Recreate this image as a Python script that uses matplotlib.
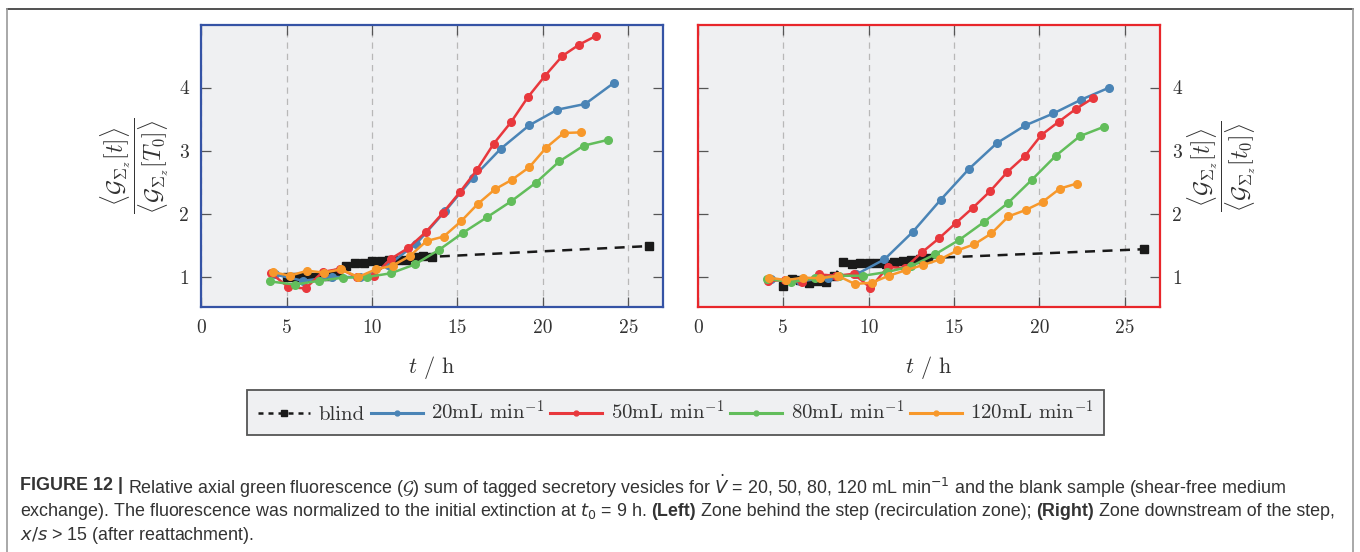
import matplotlib
matplotlib.use("Agg")
import matplotlib.pyplot as plt
from matplotlib.lines import Line2D

plt.rcParams["font.family"] = "cmr10"
plt.rcParams["mathtext.fontset"] = "cm"
plt.rcParams["axes.formatter.use_mathtext"] = True

# ---- data: left panel (recirculation zone) ----
blind_t_l = [5.0, 5.5, 6.0, 6.5, 7.0, 7.5, 8.0, 8.5, 9.0, 9.5, 10.0, 10.5, 11.0, 11.5, 12.0, 12.5, 13.0, 13.5, 26.2]
blind_y_l = [1.0, 1.0, 1.0, 1.0, 1.02, 1.02, 1.07, 1.17, 1.22, 1.22, 1.26, 1.26, 1.27, 1.27, 1.27, 1.32, 1.33, 1.32, 1.49]

t20_l = [4.3, 5.97, 7.63, 9.29, 10.95, 12.6, 14.27, 15.9, 17.53, 19.19, 20.85, 22.48, 24.14]
y20_l = [1.04, 0.94, 1.0, 1.0, 1.19, 1.53, 2.04, 2.57, 3.03, 3.40, 3.65, 3.74, 4.07]

t50_l = [4.08, 5.1, 6.11, 7.1, 8.12, 9.1, 10.09, 11.11, 12.12, 13.14, 14.13, 15.13, 16.12, 17.12, 18.13, 19.13, 20.14, 21.14, 22.13, 23.13]
y50_l = [1.06, 0.84, 0.82, 1.08, 1.13, 1.0, 1.02, 1.29, 1.46, 1.71, 2.01, 2.34, 2.69, 3.11, 3.45, 3.85, 4.19, 4.50, 4.68, 4.82]

t80_l = [4.04, 5.49, 6.87, 8.31, 9.72, 11.11, 12.51, 13.92, 15.32, 16.75, 18.15, 19.58, 20.96, 22.39, 23.79]
y80_l = [0.93, 0.88, 0.94, 0.99, 1.0, 1.06, 1.20, 1.43, 1.70, 1.95, 2.20, 2.49, 2.83, 3.08, 3.17]

t120_l = [4.18, 5.19, 6.19, 7.18, 8.18, 9.19, 10.21, 11.2, 12.2, 13.19, 14.19, 15.2, 16.2, 17.2, 18.19, 19.21, 20.2, 21.22, 22.21]
y120_l = [1.08, 1.02, 1.10, 1.07, 1.12, 1.0, 1.12, 1.18, 1.33, 1.57, 1.64, 1.88, 2.16, 2.39, 2.54, 2.74, 3.05, 3.28, 3.29]

# ---- data: right panel (after reattachment) ----
blind_t_r = [5.0, 5.5, 6.0, 6.5, 7.0, 7.5, 8.0, 8.5, 9.0, 9.5, 10.0, 10.5, 11.0, 11.5, 12.0, 12.5, 13.0, 13.5, 26.1]
blind_y_r = [0.86, 0.97, 0.95, 0.91, 0.93, 0.92, 1.01, 1.23, 1.21, 1.22, 1.22, 1.22, 1.21, 1.23, 1.25, 1.27, 1.29, 1.30, 1.44]

t20_r = [4.3, 5.97, 7.61, 9.27, 10.93, 12.57, 14.21, 15.87, 17.51, 19.17, 20.82, 22.46, 24.1]
y20_r = [0.97, 0.93, 0.99, 1.04, 1.28, 1.71, 2.22, 2.71, 3.12, 3.40, 3.59, 3.81, 4.0]

t50_r = [4.1, 5.12, 6.11, 7.11, 8.1, 9.12, 10.11, 11.13, 12.12, 13.12, 14.11, 15.13, 16.12, 17.12, 18.11, 19.13, 20.12, 21.14, 22.13, 23.13]
y50_r = [0.94, 0.95, 0.92, 1.04, 1.02, 1.05, 0.83, 1.16, 1.14, 1.39, 1.61, 1.86, 2.10, 2.36, 2.66, 2.91, 3.25, 3.46, 3.66, 3.83]

t80_r = [4.06, 5.47, 6.87, 8.28, 9.68, 11.09, 12.49, 13.9, 15.32, 16.75, 18.15, 19.56, 20.96, 22.37, 23.79]
y80_r = [0.97, 0.92, 0.98, 1.02, 1.02, 1.08, 1.17, 1.36, 1.59, 1.87, 2.17, 2.54, 2.92, 3.23, 3.38]

t120_r = [4.18, 5.17, 6.16, 7.18, 8.2, 9.19, 10.19, 11.18, 12.2, 13.19, 14.19, 15.19, 16.2, 17.19, 18.19, 19.19, 20.19, 21.2, 22.19]
y120_r = [0.99, 0.95, 0.99, 0.98, 1.02, 0.89, 0.91, 1.02, 1.11, 1.19, 1.28, 1.42, 1.52, 1.69, 1.96, 2.06, 2.19, 2.40, 2.48]

labels = [r"blind", r"20mL min$^{-1}$", r"50mL min$^{-1}$", r"80mL min$^{-1}$", r"120mL min$^{-1}$"]
colors = ["#1a1a1a", "#4a84b6", "#e8383d", "#62bd5b", "#f7982b"]

x_ticks = [0, 5, 10, 15, 20, 25]
y_ticks = [1, 2, 3, 4]

BG = "#eff0f2"
TXT = "#333333"

fig = plt.figure(figsize=(13.6, 5.52), dpi=100)
ax_l = fig.add_axes([0.148, 0.4438, 0.3397, 0.5109])
ax_r = fig.add_axes([0.5131, 0.4438, 0.3397, 0.5109])


def draw_panel(ax, blind_t, blind_y, series, edge, side):
    ax.set_facecolor(BG)
    ax.plot(blind_t, blind_y, color=colors[0], ls=(0, (4, 3)), lw=1.8,
            marker="s", ms=6, zorder=3)
    for (t, y), c in zip(series, colors[1:]):
        ax.plot(t, y, color=c, lw=1.8, marker="o", ms=5.5, zorder=4)
    ax.set_xlim(0, 27.05)
    ax.set_ylim(0.525, 4.99)
    ax.set_xticks(x_ticks)
    ax.set_xticklabels([str(v) for v in x_ticks])
    ax.set_yticks(y_ticks)
    ax.set_yticklabels([str(v) for v in y_ticks])
    ax.grid(axis="x", color="#b8b8b8", ls=(0, (5, 4)), lw=0.9, zorder=0)
    ax.set_axisbelow(True)
    for s in ax.spines.values():
        s.set_color(edge)
        s.set_linewidth(1.6)
    ax.tick_params(direction="in", length=7, width=0.9, color="#555555",
                   top=True, bottom=True, left=True, right=True,
                   labelsize=14, labelcolor=TXT, pad=9)
    if side == "right":
        ax.tick_params(labelleft=False, labelright=True)
    ax.set_xlabel(r"$t$ / h", fontsize=16, color=TXT, labelpad=12)


draw_panel(ax_l, blind_t_l, blind_y_l,
           [(t20_l, y20_l), (t50_l, y50_l), (t80_l, y80_l), (t120_l, y120_l)],
           "#3553a5", "left")
draw_panel(ax_r, blind_t_r, blind_y_r,
           [(t20_r, y20_r), (t50_r, y50_r), (t80_r, y80_r), (t120_r, y120_r)],
           "#e8262b", "right")

ax_l.set_ylabel(r"$\dfrac{\langle\mathcal{G}_{\Sigma_z}[t]\rangle}{\langle\mathcal{G}_{\Sigma_z}[T_0]\rangle}$",
                fontsize=17, color=TXT, labelpad=6)
ax_r.yaxis.set_label_position("right")
ax_r.set_ylabel(r"$\dfrac{\langle\mathcal{G}_{\Sigma_z}[t]\rangle}{\langle\mathcal{G}_{\Sigma_z}[t_0]\rangle}$",
                fontsize=17, color=TXT, labelpad=2, rotation=90)

# legend
handles = [Line2D([], [], color=colors[0], ls=(0, (2, 2)), lw=1.8, marker="s", ms=5)]
handles += [Line2D([], [], color=c, lw=2.2, marker="o", ms=3.5) for c in colors[1:]]
leg = fig.legend(handles, labels, loc="center", bbox_to_anchor=(0.497, 0.2536), ncol=5,
                 fontsize=15, frameon=True, fancybox=False, framealpha=1,
                 facecolor=BG, edgecolor="#555555", handlelength=2.5,
                 handletextpad=0.4, columnspacing=0.3, borderpad=0.5)
leg.get_frame().set_linewidth(1.3)
for t in leg.get_texts():
    t.set_color(TXT)

# figure frame
fig.add_artist(Line2D([7 / 1360, 1353 / 1360], [1 - 9 / 552, 1 - 9 / 552], color="#333333", lw=1.2))
fig.add_artist(Line2D([7 / 1360, 7 / 1360], [0, 1 - 9 / 552], color="#999999", lw=1.2))
fig.add_artist(Line2D([1353 / 1360, 1353 / 1360], [0, 1 - 9 / 552], color="#999999", lw=1.2))

# caption
cap_font = ["Liberation Sans", "DejaVu Sans"]
cap_size = 12.9
cap_lines = [
    [("FIGURE 12 |", "bold"),
     (r"Relative axial green fluorescence ($\mathcal{G}$) sum of tagged secretory vesicles for "
      r"$\dot{V}$ = 20, 50, 80, 120 mL min$^{-1}$ and the blank sample (shear-free medium", "normal")],
    [(r"exchange). The fluorescence was normalized to the initial extinction at $t_0$ = 9 h.", "normal"),
     ("(Left)", "bold"),
     ("Zone behind the step (recirculation zone);", "normal"),
     ("(Right)", "bold"),
     ("Zone downstream of the step,", "normal")],
    [(r"$x/s$ > 15 (after reattachment).", "normal")],
]
cap_y = [486, 511, 536]

renderer = fig.canvas.get_renderer()
probe1 = fig.text(0, 0, "xx", fontsize=cap_size, family=cap_font)
probe2 = fig.text(0, 0, "x x", fontsize=cap_size, family=cap_font)
gap = probe2.get_window_extent(renderer).width - probe1.get_window_extent(renderer).width
probe1.remove()
probe2.remove()

for pieces, yy in zip(cap_lines, cap_y):
    x = 20.0
    for txt, wt in pieces:
        tx = fig.text(x / 1360, 1 - yy / 552, txt, fontsize=cap_size, family=cap_font,
                      weight=wt, color=TXT, va="center", ha="left",
                      math_fontfamily="dejavusans")
        x += tx.get_window_extent(renderer).width + gap

fig.savefig("out.png", dpi=100)
